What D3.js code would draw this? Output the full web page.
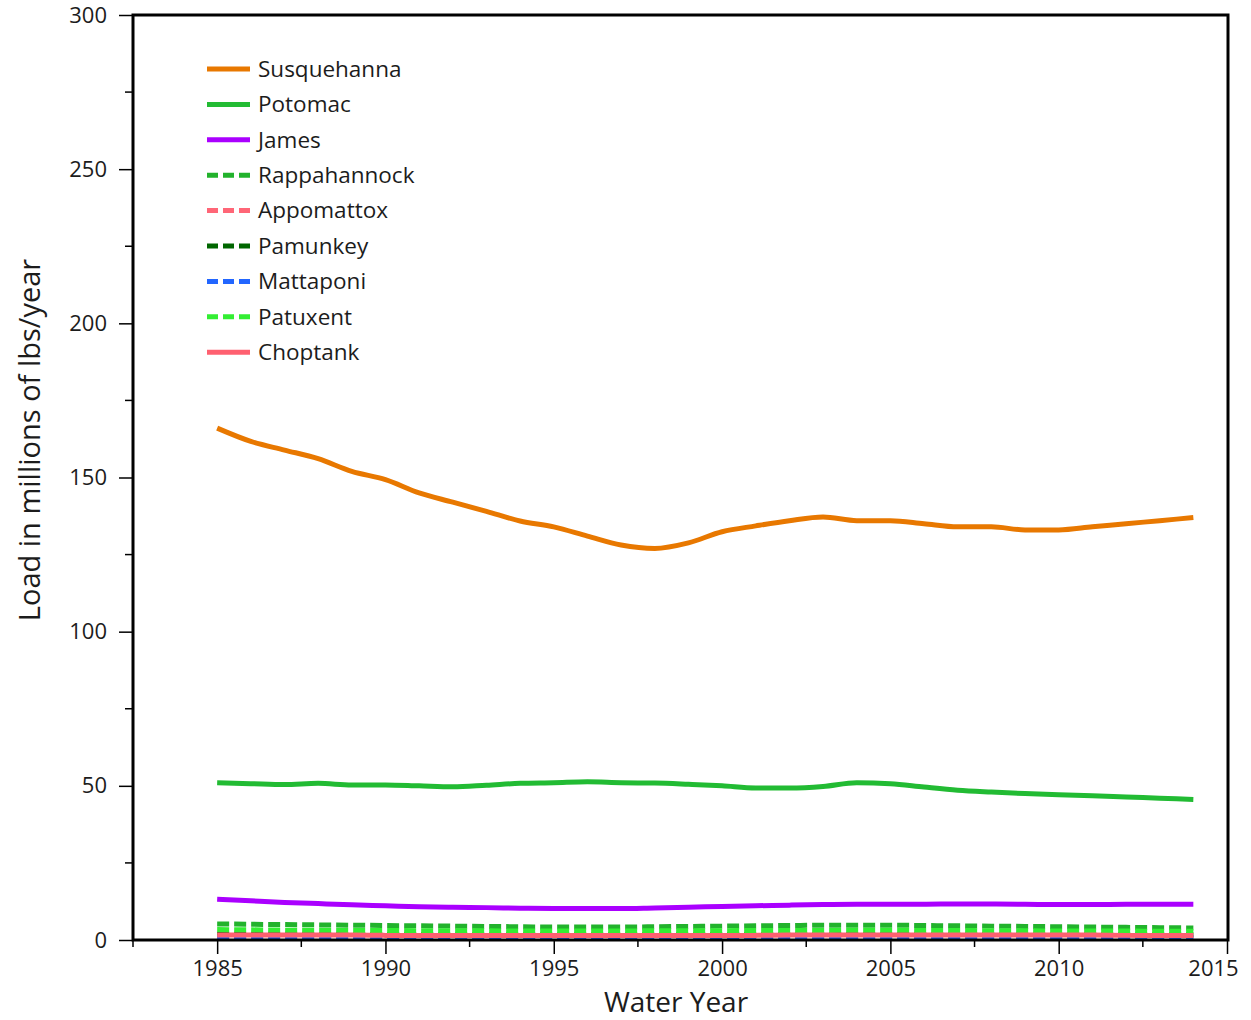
<!DOCTYPE html>
<html>
<head>
<meta charset="utf-8">
<script src="https://cdn.jsdelivr.net/npm/d3@7"></script>
<style>
  html, body { margin: 0; padding: 0; background: #fff; }
  svg { display: block; font-family: "Open Sans", "Noto Sans", sans-serif; }
</style>
</head>
<body>
<svg id="chart" width="1251" height="1020"></svg>
<script>
// Water years covered by the load estimates
const years = [1985, 1986, 1987, 1988, 1989, 1990, 1991, 1992, 1993, 1994,
               1995, 1996, 1997, 1998, 1999, 2000, 2001, 2002, 2003, 2004,
               2005, 2006, 2007, 2008, 2009, 2010, 2011, 2012, 2013, 2014];

// Annual loads, millions of lbs/year
const susquehanna = [166, 161.7, 158.9, 156.1, 152, 149.3, 145, 142, 139, 135.9,
                     134, 131, 128.1, 127, 128.8, 132.4, 134.3, 136, 137.2, 136,
                     136, 135, 134, 134, 133, 133, 134, 135, 136, 137];
const potomac = [51, 50.7, 50.4, 50.8, 50.3, 50.3, 50, 49.7, 50.2, 50.8,
                 51, 51.3, 51, 50.9, 50.5, 50, 49.3, 49.3, 49.8, 51,
                 50.7, 49.6, 48.6, 48, 47.5, 47.1, 46.8, 46.4, 46, 45.6];
const james = [13.2, 12.7, 12.2, 11.8, 11.4, 11.1, 10.8, 10.6, 10.5, 10.3,
               10.2, 10.2, 10.2, 10.4, 10.6, 10.9, 11.1, 11.3, 11.5, 11.6,
               11.6, 11.6, 11.7, 11.7, 11.6, 11.5, 11.5, 11.6, 11.6, 11.6];
const rappahannock = [5.2, 5.1, 5.0, 4.9, 4.8, 4.7, 4.6, 4.5, 4.4, 4.3,
                      4.2, 4.2, 4.2, 4.3, 4.4, 4.5, 4.6, 4.7, 4.8, 4.8,
                      4.8, 4.7, 4.6, 4.5, 4.4, 4.3, 4.2, 4.1, 4.0, 3.9];
const appomattox = [1.2, 1.2, 1.2, 1.1, 1.1, 1.1, 1.1, 1.1, 1.0, 1.0,
                    1.0, 1.0, 1.0, 1.0, 1.0, 1.1, 1.1, 1.1, 1.1, 1.1,
                    1.1, 1.1, 1.1, 1.1, 1.0, 1.0, 1.0, 1.0, 1.0, 1.0];
const pamunkey = [1.9, 1.9, 1.9, 1.8, 1.8, 1.8, 1.8, 1.7, 1.7, 1.7,
                  1.7, 1.7, 1.7, 1.7, 1.7, 1.8, 1.8, 1.8, 1.8, 1.8,
                  1.8, 1.8, 1.8, 1.8, 1.7, 1.7, 1.7, 1.7, 1.7, 1.7];
const mattaponi = [0.8, 0.8, 0.8, 0.8, 0.8, 0.8, 0.7, 0.7, 0.7, 0.7,
                   0.7, 0.7, 0.7, 0.7, 0.7, 0.7, 0.7, 0.7, 0.8, 0.8,
                   0.8, 0.8, 0.8, 0.8, 0.7, 0.7, 0.7, 0.7, 0.7, 0.7];
const patuxent = [3.4, 3.3, 3.2, 3.2, 3.1, 3.1, 3.0, 3.0, 3.0, 2.9,
                  2.9, 2.9, 2.9, 3.0, 3.0, 3.0, 3.1, 3.1, 3.1, 3.2,
                  3.2, 3.1, 3.1, 3.0, 3.0, 2.9, 2.9, 2.9, 2.8, 2.8];
const choptank = [1.6, 1.6, 1.6, 1.6, 1.6, 1.5, 1.5, 1.5, 1.5, 1.5,
                  1.5, 1.5, 1.5, 1.5, 1.5, 1.5, 1.5, 1.6, 1.6, 1.6,
                  1.6, 1.6, 1.6, 1.6, 1.6, 1.6, 1.6, 1.5, 1.5, 1.5];

const riverNames = ["Susquehanna", "Potomac", "James", "Rappahannock", "Appomattox",
                    "Pamunkey", "Mattaponi", "Patuxent", "Choptank"];
const riverValues = [susquehanna, potomac, james, rappahannock, appomattox,
                     pamunkey, mattaponi, patuxent, choptank];

const xTickValues = [1985, 1990, 1995, 2000, 2005, 2010, 2015];
const yTickValues = [0, 50, 100, 150, 200, 250, 300];

// Line styling per river
const riverColors = ["#e87800", "#22bb33", "#aa00ff", "#22b22c", "#ff6677",
                     "#006600", "#2266ff", "#33ee33", "#ff6070"];
const riverDashed = [false, false, false, true, true, true, true, true, false];

const svg = d3.select("#chart");
const plot = { left: 133, right: 1227, top: 15, bottom: 940 };
const textColor = "#1c1c1c";

const x = d3.scaleLinear().domain([1982.5, 2015]).range([plot.left, plot.right]);
const y = d3.scaleLinear().domain([0, 300]).range([plot.bottom, plot.top]);

// Minor ticks
const xMinor = d3.range(1982.5, 2015.01, 2.5).filter(v => v % 5 !== 0);
const yMinor = d3.range(25, 300, 50);

svg.append("g").selectAll("line").data(xMinor).join("line")
  .attr("x1", d => x(d)).attr("x2", d => x(d))
  .attr("y1", plot.bottom).attr("y2", plot.bottom + 7)
  .attr("stroke", "#000").attr("stroke-width", 1.5);

svg.append("g").selectAll("line").data(yMinor).join("line")
  .attr("x1", plot.left - 8).attr("x2", plot.left)
  .attr("y1", d => y(d)).attr("y2", d => y(d))
  .attr("stroke", "#000").attr("stroke-width", 1.5);

// X axis
const xAxis = svg.append("g")
  .attr("transform", `translate(0,${plot.bottom})`)
  .call(d3.axisBottom(x).tickValues(xTickValues).tickFormat(d3.format("d"))
        .tickSizeInner(14).tickSizeOuter(0).tickPadding(6));
xAxis.select(".domain").remove();
xAxis.selectAll(".tick line").attr("stroke", "#000").attr("stroke-width", 1.5);
xAxis.selectAll(".tick text")
  .attr("font-size", 22).attr("fill", textColor)
  .attr("font-family", "'Open Sans', sans-serif")
  .attr("dx", d => d === 2015 ? -14 : 0);

// Y axis
const yAxis = svg.append("g")
  .attr("transform", `translate(${plot.left},0)`)
  .call(d3.axisLeft(y).tickValues(yTickValues)
        .tickSizeInner(14).tickSizeOuter(0).tickPadding(12));
yAxis.select(".domain").remove();
yAxis.selectAll(".tick line").attr("stroke", "#000").attr("stroke-width", 1.5);
yAxis.selectAll(".tick text")
  .attr("font-size", 22).attr("fill", textColor)
  .attr("font-family", "'Open Sans', sans-serif");

// Data lines
const line = d3.line()
  .x((d, i) => x(years[i]))
  .y(d => y(d))
  .curve(d3.curveMonotoneX);

svg.append("g").selectAll("path").data(riverValues).join("path")
  .attr("d", d => line(d))
  .attr("fill", "none")
  .attr("stroke", (d, i) => riverColors[i])
  .attr("stroke-width", 5)
  .attr("stroke-linejoin", "round")
  .attr("stroke-dasharray", (d, i) => riverDashed[i] ? "12,5" : null);

// Plot frame
svg.append("rect")
  .attr("x", plot.left).attr("y", plot.top)
  .attr("width", plot.right + 1 - plot.left).attr("height", plot.bottom - plot.top)
  .attr("fill", "none").attr("stroke", "#000").attr("stroke-width", 3);

// Legend
const legend = svg.append("g").attr("transform", "translate(207,69)");
const rows = legend.selectAll("g").data(riverNames).join("g")
  .attr("transform", (d, i) => `translate(0,${i * 35.4})`);
rows.append("line")
  .attr("x1", 0).attr("x2", 43).attr("y1", 0).attr("y2", 0)
  .attr("stroke", (d, i) => riverColors[i])
  .attr("stroke-width", 5)
  .attr("stroke-dasharray", (d, i) => riverDashed[i] ? "11,5" : null);
rows.append("text")
  .attr("x", 51).attr("y", 0).attr("dy", "0.35em")
  .attr("font-size", 22.5).attr("fill", textColor)
  .text(d => d);

// Axis titles
svg.append("text")
  .attr("transform", "translate(40,440) rotate(-90)")
  .attr("text-anchor", "middle")
  .attr("font-size", 29).attr("fill", textColor)
  .text("Load in millions of lbs/year");

svg.append("text")
  .attr("x", 676).attr("y", 1012)
  .attr("text-anchor", "middle")
  .attr("font-size", 28).attr("fill", textColor)
  .text("Water Year");
</script>
</body>
</html>
